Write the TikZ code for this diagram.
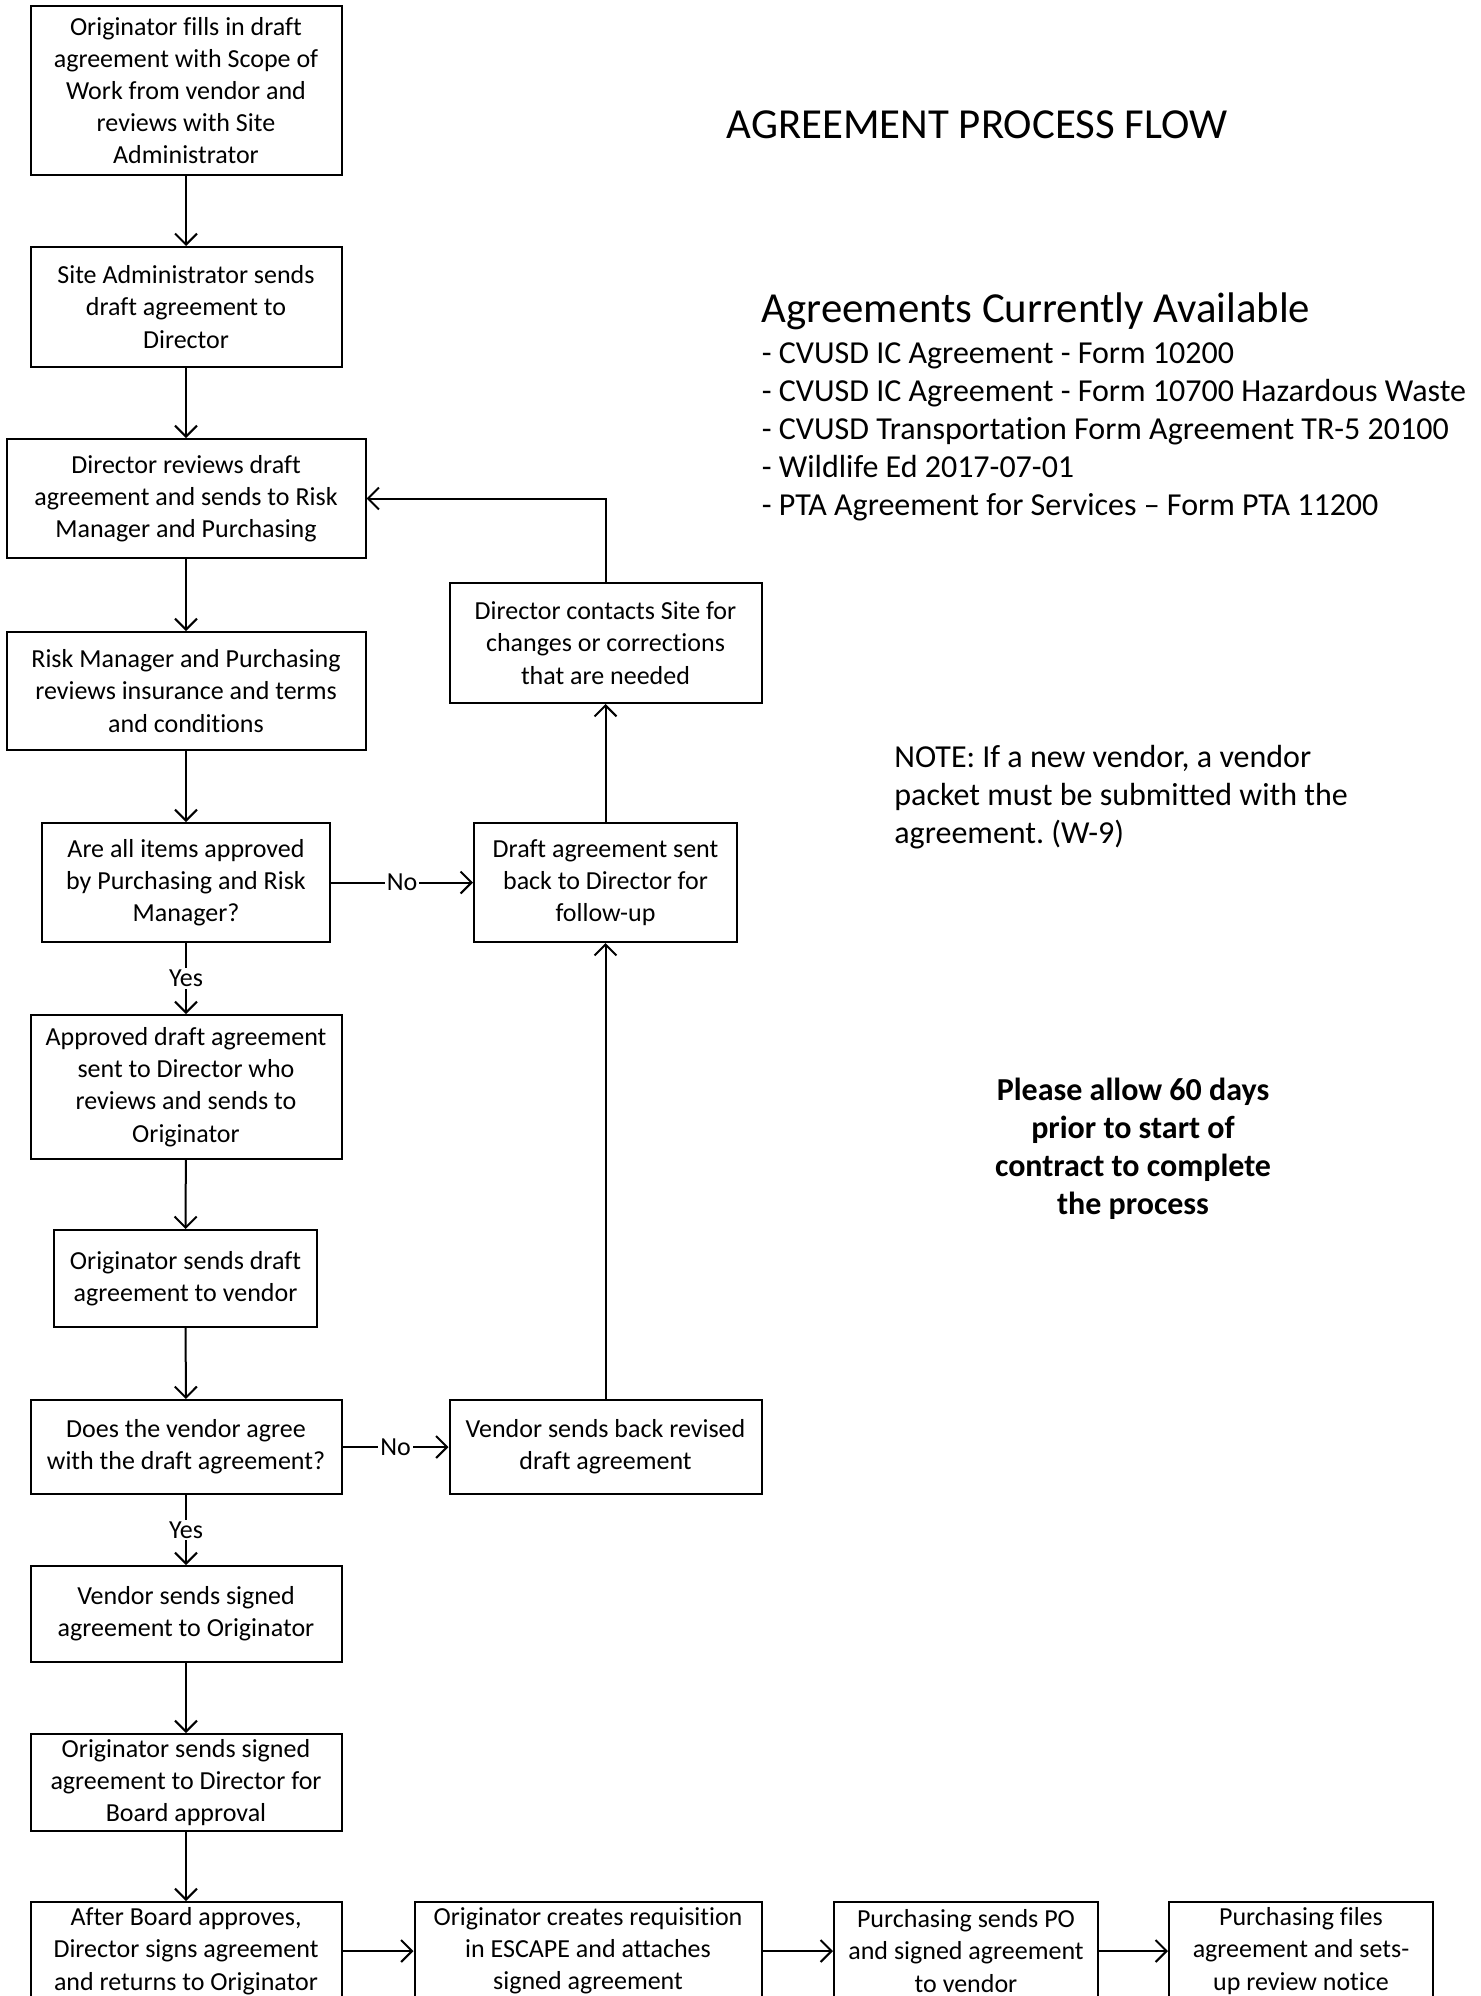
\documentclass[tikz,border=0pt]{standalone}
\usepackage{fontspec}
\setmainfont{Carlito}[RawFeature={-liga,-clig,-calt}]
\usetikzlibrary{arrows.meta}
\frenchspacing
\begin{document}
\begin{tikzpicture}[x=0.5pt,y=-0.5pt,
  box/.style={draw, line width=1pt, align=center, inner sep=0pt, font=\fontsize{13}{16.1}\selectfont},
  arr/.style={line width=1pt, -{Straight Barb[length=5.5pt,width=11pt]}},
  lbl/.style={fill=white, inner sep=1pt, font=\fontsize{13}{16.1}\selectfont},
  side/.style={anchor=base west, inner sep=0pt, font=\fontsize{16}{19}\selectfont}]
\useasboundingbox (0,0) rectangle (1481,1996);
% left column
\node[box, minimum width=155.5pt, minimum height=84pt] (b1) at (186,90.5) {Originator fills in draft\\agreement with Scope of\\Work from vendor and\\reviews with Site\\Administrator};
\node[box, minimum width=155.5pt, minimum height=60pt] (b2) at (186,307) {Site Administrator sends\\draft agreement to\\Director};
\node[box, minimum width=179.5pt, minimum height=59.5pt] (b3) at (186,498.5) {Director reviews draft\\agreement and sends to Risk\\Manager and Purchasing};
\node[box, minimum width=179.5pt, minimum height=59pt] (b4) at (186,691) {Risk Manager and Purchasing\\reviews insurance and terms\\and conditions};
\node[box, minimum width=144pt, minimum height=59.5pt] (b5) at (186,882.5) {Are all items approved\\by Purchasing and Risk\\Manager?};
\node[box, minimum width=155.5pt, minimum height=72pt] (b6) at (186,1087) {Approved draft agreement\\sent to Director who\\reviews and sends to\\Originator};
\node[box, minimum width=131.5pt, minimum height=48.5pt] (b7) at (185.5,1278.5) {Originator sends draft\\agreement to vendor};
\node[box, minimum width=155.5pt, minimum height=47pt] (b8) at (186,1447) {Does the vendor agree\\with the draft agreement?};
\node[box, minimum width=155.5pt, minimum height=48pt] (b9) at (186,1614) {Vendor sends signed\\agreement to Originator};
\node[box, minimum width=155.5pt, minimum height=48.5pt] (b10) at (186,1782.5) {Originator sends signed\\agreement to Director for\\Board approval};
\node[box, minimum width=155.5pt, minimum height=49pt] (b11) at (186,1951) {After Board approves,\\Director signs agreement\\and returns to Originator};
% bottom row
\node[box, minimum width=173.5pt, minimum height=49pt] (b12) at (588,1951) {Originator creates requisition\\in ESCAPE and attaches\\signed agreement};
\node[box, minimum width=132pt, minimum height=49pt] (b13) at (966,1951) {Purchasing sends PO\\and signed agreement\\to vendor};
\node[box, minimum width=132pt, minimum height=49pt] (b14) at (1301,1951) {Purchasing files\\agreement and sets-\\up review notice};
% right column
\node[box, minimum width=156pt, minimum height=60pt] (b15) at (605.5,643) {Director contacts Site for\\changes or corrections\\that are needed};
\node[box, minimum width=131.5pt, minimum height=59.5pt] (b16) at (605.5,882.5) {Draft agreement sent\\back to Director for\\follow-up};
\node[box, minimum width=156pt, minimum height=47pt] (b17) at (605.5,1447) {Vendor sends back revised\\draft agreement};
% connectors
\draw[arr] (b1) -- (b2);
\draw[arr] (b2) -- (b3);
\draw[arr] (b3) -- (b4);
\draw[arr] (b4) -- (b5);
\draw[arr] (b5) -- node[lbl] {Yes} (b6);
\draw[arr] (b5) -- node[lbl] {No} (b16);
\draw[arr] (b16) -- (b15);
\draw[arr] (b15.north) |- (b3.east);
\draw[arr] (b17) -- (b16);
\draw[arr] (b6) -- (b7);
\draw[arr] (b7) -- (b8);
\draw[arr] (b8) -- node[lbl] {No} (b17);
\draw[arr] (b8) -- node[lbl] {Yes} (b9);
\draw[arr] (b9) -- (b10);
\draw[arr] (b10) -- (b11);
\draw[arr] (b11) -- (b12);
\draw[arr] (b12) -- (b13);
\draw[arr] (b13) -- (b14);
% texts
\node[anchor=base, inner sep=0pt, font=\fontsize{21.4}{26}\selectfont] (title) at (977,139) {AGREEMENT PROCESS FLOW};
\node[anchor=base west, inner sep=0pt, font=\fontsize{21.4}{26}\selectfont] (agh) at (761.5,322) {Agreements Currently Available};
\node[side] (a1) at (761.5,363) {- CVUSD IC Agreement - Form 10200};
\node[side] (a2) at (761.5,401.2) {- CVUSD IC Agreement - Form 10700 Hazardous Waste};
\node[side] (a3) at (761.5,439.4) {- CVUSD Transportation Form Agreement TR-5 20100};
\node[side] (a4) at (761.5,477.6) {- Wildlife Ed 2017-07-01};
\node[side] (a5) at (761.5,515.8) {- PTA Agreement for Services -- Form PTA 11200};
\node[side] (n1) at (894,767) {NOTE: If a new vendor, a vendor};
\node[side] (n2) at (894,805) {packet must be submitted with the};
\node[side] (n3) at (894,843) {agreement. (W-9)};
\node[anchor=base, inner sep=0pt, align=center, font=\bfseries\fontsize{16}{19.1}\selectfont] (please) at (1133,1214.6) {Please allow 60 days\\prior to start of\\contract to complete\\the process};
\end{tikzpicture}
\end{document}
